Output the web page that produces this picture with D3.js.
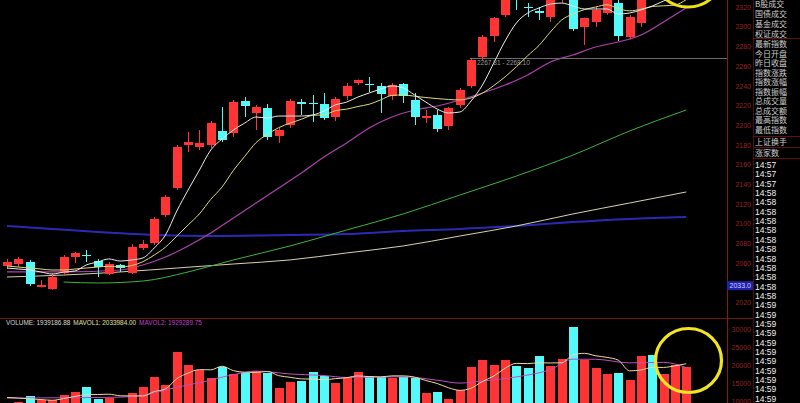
<!DOCTYPE html>
<html><head><meta charset="utf-8">
<script src="https://cdn.jsdelivr.net/npm/d3@7"></script>
<style>html,body{margin:0;padding:0;background:#000;overflow:hidden}</style>
</head><body><svg id="c" width="800" height="403"></svg>
<script>
// ---------- DATA ----------
const opens  = [2057.1,2059.1,2061.1,2035.7,2034.0,2049.9,2066.2,2068.5,2062.1,2048.9,
                2058.1,2049.9,2075.4,2080.4,2108.8,2136.2,2179.9,2177.9,2179.9,2194.1,
                2192.1,2224.6,2212.4,2217.5,2189.0,2200.2,2223.6,2222.8,2221.5,2208.3,
                2229.6,2242.8,2242.0,2239.8,2229.6,2241.8,2225.6,2207.3,2210.4,2199.2,
                2220.5,2239.8,2269.2,2290.6,2311.9,2342.0,2320.3,2315.9,2309.8,2330.0,
                2337.3,2299.7,2304.8,2313.9,2324.1,2289.5,2303.8,2345.0,2333.0,2340.0,2345.0];
const closes = [2061.1,2064.2,2038.8,2037.7,2045.9,2066.2,2070.3,2068.0,2056.0,2059.1,
                2055.0,2076.4,2079.4,2104.8,2127.1,2177.9,2182.9,2181.9,2202.2,2185.0,
                2223.6,2219.5,2218.5,2188.0,2195.1,2224.6,2221.5,2222.3,2207.3,2226.6,
                2239.8,2245.9,2241.5,2231.7,2240.8,2229.6,2208.3,2209.3,2196.1,2217.5,
                2235.7,2266.2,2289.5,2308.8,2330.2,2333.0,2319.8,2313.9,2332.2,2340.0,
                2297.7,2308.8,2317.0,2332.2,2290.6,2309.8,2335.2,2334.0,2343.0,2348.0,2352.0];
const highs  = [2064.2,2066.2,2063.2,2042.8,2049.9,2068.2,2071.3,2073.3,2064.2,2061.1,
                2059.1,2079.4,2083.5,2106.8,2129.1,2179.9,2193.1,2195.1,2204.3,2218.5,
                2225.6,2228.6,2220.5,2221.5,2197.2,2226.6,2226.6,2230.7,2232.7,2228.6,
                2242.8,2246.4,2248.9,2242.8,2242.8,2242.8,2232.7,2215.4,2215.4,2218.5,
                2237.8,2268.2,2291.6,2309.8,2333.0,2346.0,2324.1,2320.0,2336.0,2344.0,
                2342.0,2309.3,2320.0,2335.0,2330.0,2311.9,2338.0,2349.0,2346.0,2351.0,2355.0];
const lows   = [2054.0,2056.0,2036.7,2035.2,2033.0,2047.9,2060.1,2061.1,2045.9,2047.9,
                2051.0,2048.9,2073.3,2078.4,2106.8,2134.2,2172.8,2174.8,2176.9,2182.9,
                2188.0,2208.3,2195.1,2185.0,2181.9,2197.2,2210.4,2203.3,2205.3,2204.3,
                2225.6,2240.8,2233.7,2212.4,2225.6,2222.5,2200.2,2202.2,2193.1,2195.1,
                2217.5,2237.8,2266.2,2284.5,2309.8,2317.0,2309.8,2306.8,2304.8,2324.1,
                2295.6,2281.4,2299.7,2312.0,2285.5,2287.0,2299.7,2330.0,2330.0,2337.0,2341.0];
const volumes = [9300,9600,11400,10360,10360,11680,12510,13910,10560,10840,
                 9440,12230,13910,16700,14470,23690,20050,18660,16420,19500,
                 17540,17820,18380,17820,13630,15300,15590,18100,16980,15030,
                 16700,18100,16980,16700,16420,16700,16420,12230,12510,10560,
                 13070,19500,21450,20050,21450,19780,19220,22570,19780,21730,
                 30670,21450,19220,17540,17820,15860,22570,22850,17540,20050,19390];

// price moving averages
const ma5 = [2055.0,2054.0,2053.0,2051.0,2048.9,2050.9,2052.0,2058.1,2061.1,2064.2,
             2062.1,2063.2,2065.2,2075.3,2088.5,2112.9,2134.2,2154.5,2174.8,2186.0,
             2195.1,2202.2,2208.3,2207.3,2209.3,2209.3,2209.3,2210.4,2214.4,2220.5,
             2223.5,2228.6,2232.7,2236.7,2239.8,2237.8,2230.7,2223.5,2216.4,2212.4,
             2213.4,2224.6,2240.8,2263.1,2285.5,2303.8,2313.9,2319.0,2323.0,2324.0,
             2321.0,2318.0,2318.0,2318.0,2312.9,2313.9,2317.0,2321.0,2326.1,2331.2,2337.3];
const ma10 = [2057.1,2056.0,2055.0,2054.0,2053.0,2053.0,2054.0,2055.0,2056.0,2056.8,
              2056.1,2057.4,2061.4,2068.1,2076.2,2087.4,2098.7,2110.0,2124.7,2137.3,
              2154.1,2168.4,2182.3,2190.7,2197.5,2202.1,2206.0,2210.0,2210.5,2214.7,
              2216.3,2219.0,2221.3,2225.7,2230.2,2230.8,2229.4,2228.1,2227.0,2226.1,
              2225.7,2227.7,2232.5,2240.2,2249.1,2259.4,2270.6,2281.0,2294.6,2306.8,
              2313.0,2317.3,2320.0,2322.3,2318.4,2316.1,2317.7,2320.5,2321.2,2322.0,2327.5];
const ma20Idx = [0,5,10,12,14,16,18,20,22,24,26,28,30,32,34,36,38,40,42,44,46,48,50,52,54,56,58,60];
const ma20 = [2051.0,2051.0,2053.0,2058.1,2066.2,2077.4,2090.6,2105.8,2121.0,2136.2,2151.5,2167.7,2181.9,2197.2,
              2208.3,2215.4,2219.5,2225.6,2232.7,2240.8,2251.0,2264.2,2271.3,2279.4,2284.5,2291.6,2304.8,2319.0];
const ma60Idx = [5,8,12,16,20,25,30,35,40,45,50,55,60];
const ma60 = [2040.8,2039.8,2041.8,2051.0,2063.2,2077.4,2093.6,2109.9,2129.1,2148.4,2169.7,2194.1,2215.4];
const ma120Idx = [0,5,10,15,20,25,30,35,40,45,50,55,60];
const ma120 = [2045.9,2047.9,2051.0,2055.0,2059.1,2063.2,2070.3,2077.4,2087.5,2097.7,2109.9,2121.0,2132.2];
const ma250Idx = [0,4,8,13,18,25,30,35,40,45,50,55,60];
const ma250 = [2097.7,2094.6,2091.6,2088.5,2087.5,2088.5,2089.5,2092.6,2094.6,2097.7,2101.7,2104.8,2106.8];

// volume moving averages
const mavol1 = [11000,10800,10600,10400,10200,10680,11260,11760,11800,11900,
                11450,11400,11400,12620,13350,16200,17760,18710,18660,19660,
                18430,17990,17930,18210,17040,16590,16140,16090,15920,16200,
                16480,16980,16760,16700,16980,16980,16640,15690,14860,13680,
                12960,13570,15420,16930,19100,20450,20390,20610,20560,20620,
                22790,23240,22570,22120,21340,18380,18600,19330,19330,19770,20340];
const mavol2Idx = [0,5,10,12,15,17,20,22,25,28,30,35,38,40,42,45,48,50,52,55,58,60];
const mavol2 = [10800,10900,11070,11580,13830,15060,17320,18320,17510,17070,16540,16730,15780,14970,15560,16700,18740,21620,21590,20590,20730,19290];

const priceTicks = [2320,2300,2280,2260,2240,2220,2200,2180,2160,2140,2120,2100,2080,2060,2020];
const volTicks = [30000,25000,20000,15000,10000];
const lowMark = 2033.0;
const cursorRange = ["2267.81","2268.10"];
const cursorPrice = 2268.1;
const volTitle = [["VOLUME: 1939186.88","#d8d8d0"],["MAVOL1: 2033984.00","#e0e0a8"],["MAVOL2: 1929289.75","#c040c8"]];
const sideLabels = ["B股成交","国债成交","基金成交","权证成交","最新指数","今日开盘","昨日收盘","指数涨跌","指数涨幅","指数振幅","总成交量","总成交额","最高指数","最低指数","上证换手","涨家数"];
const timeLabels = ["14:57","14:57","14:57","14:58","14:58","14:58","14:58","14:58","14:58","14:58","14:58","14:58","14:58","14:58","14:58",
                    "14:59","14:59","14:59","14:59","14:59","14:59","14:59","14:59","14:59","14:59","14:59"];

// ---------- DRAW ----------
const svg = d3.select("#c");
svg.append("rect").attr("width",800).attr("height",403).attr("fill","#000");
const defs = svg.append("defs");
defs.append("clipPath").attr("id","cp").append("rect").attr("x",0).attr("y",0).attr("width",727).attr("height",317);
defs.append("clipPath").attr("id","cv").append("rect").attr("x",0).attr("y",319).attr("width",727).attr("height",84);

const x = d3.scaleLinear().domain([0,60]).range([7,686.2]);
const yP = d3.scaleLinear().domain([2020,2320]).range([302.5,7]);
const yV = d3.scaleLinear().domain([10000,30000]).range([401,329]);
const RED = "#ff3434", CYAN = "#54fafa";

const candles = opens.map((o,i)=>({i,o,c:closes[i],h:highs[i],l:lows[i],v:volumes[i]}));

// frame lines
const frame = svg.append("g");
frame.append("line").attr("x1",0).attr("x2",753).attr("y1",318.5).attr("y2",318.5).attr("stroke","#6a1414");
frame.append("line").attr("x1",727.5).attr("x2",727.5).attr("y1",0).attr("y2",403).attr("stroke","#8a1818");
frame.append("line").attr("x1",753.5).attr("x2",753.5).attr("y1",0).attr("y2",403).attr("stroke","#4a1010");
[38.5,136.5,147.5,158.5].forEach(yy=>frame.append("line").attr("x1",753).attr("x2",800).attr("y1",yy).attr("y2",yy).attr("stroke","#5a1212"));

// price pane
const gp = svg.append("g").attr("clip-path","url(#cp)");
const pl = (idx, vals) => d3.line().x((d,k)=>x(idx?idx[k]:k)).y(d=>yP(d)).curve(d3.curveMonotoneX)(vals);
gp.append("path").attr("d",pl(ma250Idx,ma250)).attr("fill","none").attr("stroke","#2a2ab4").attr("stroke-width",2);
gp.append("path").attr("d",pl(ma120Idx,ma120)).attr("fill","none").attr("stroke","#d8d2b0").attr("stroke-width",1);
gp.append("path").attr("d",pl(ma60Idx,ma60)).attr("fill","none").attr("stroke","#3cb43c").attr("stroke-width",1);
gp.append("path").attr("d",pl(ma20Idx,ma20)).attr("fill","none").attr("stroke","#b040b0").attr("stroke-width",1.2);

// cursor line
gp.append("line").attr("x1",470).attr("x2",727).attr("y1",Math.round(yP(cursorPrice))+0.5).attr("y2",Math.round(yP(cursorPrice))+0.5).attr("stroke","#6c6c6c");
svg.append("text").attr("x",477).attr("y",yP(cursorPrice)+7).attr("font-family","Liberation Sans").attr("font-size",6.5).attr("fill","#9a9a9a").text(cursorRange.join(" - "));

const cg = gp.selectAll("g.c").data(candles).join("g");
cg.append("line").attr("x1",d=>Math.round(x(d.i))+0.5).attr("x2",d=>Math.round(x(d.i))+0.5)
  .attr("y1",d=>yP(d.h)).attr("y2",d=>yP(d.l)).attr("stroke",d=>d.c>=d.o?RED:CYAN);
cg.append("rect").attr("x",d=>Math.round(x(d.i))-4).attr("width",9)
  .attr("y",d=>yP(Math.max(d.o,d.c))).attr("height",d=>Math.max(1.2,Math.abs(yP(d.o)-yP(d.c))))
  .attr("fill",d=>d.c>=d.o?RED:CYAN).attr("shape-rendering","crispEdges");

gp.append("path").attr("d",pl(null,ma10)).attr("fill","none").attr("stroke","#e0dc78").attr("stroke-width",1);
gp.append("path").attr("d",pl(null,ma5)).attr("fill","none").attr("stroke","#ececec").attr("stroke-width",1);

// volume pane
const gv = svg.append("g").attr("clip-path","url(#cv)");
gv.selectAll("rect").data(candles).join("rect")
  .attr("x",d=>Math.round(x(d.i))-4).attr("width",9)
  .attr("y",d=>yV(d.v)).attr("height",d=>yV(0)-yV(d.v))
  .attr("fill",d=>d.c>=d.o?RED:CYAN).attr("shape-rendering","crispEdges");
const vl = (idx, vals) => d3.line().x((d,k)=>x(idx?idx[k]:k)).y(d=>yV(d)).curve(d3.curveMonotoneX)(vals);
gv.append("path").attr("d",vl(mavol2Idx,mavol2)).attr("fill","none").attr("stroke","#c050c0").attr("stroke-width",1);
gv.append("path").attr("d",vl(null,mavol1)).attr("fill","none").attr("stroke","#ecdca0").attr("stroke-width",1);

const vt = svg.append("text").attr("x",6).attr("y",325).attr("font-family","Liberation Sans").attr("font-size",6.4);
volTitle.forEach(([t,c],k)=>vt.append("tspan").attr("fill",c).attr("dx",k?3:0).text(t));

// axes
const ax = svg.append("g").attr("transform","translate(752,0)")
  .call(d3.axisLeft(yP).tickValues(priceTicks).tickSize(0).tickPadding(1).tickFormat(d3.format("d")));
ax.select(".domain").remove();
ax.selectAll("text").attr("fill","#9a2020").attr("font-family","Liberation Sans").attr("font-size",7);
const av = svg.append("g").attr("transform","translate(752,0)")
  .call(d3.axisLeft(yV).tickValues(volTicks).tickSize(0).tickPadding(1).tickFormat(d3.format("d")));
av.select(".domain").remove();
av.selectAll("text").attr("fill","#9a2020").attr("font-family","Liberation Sans").attr("font-size",7);

// low marker box
const by = yP(lowMark) - 4;
svg.append("rect").attr("x",727).attr("y",by-4.5).attr("width",26).attr("height",9).attr("fill","#2020a8");
svg.append("text").attr("x",751).attr("y",by+2.5).attr("text-anchor","end").attr("font-family","Liberation Sans").attr("font-size",7).attr("fill","#d0d0ff").text(lowMark.toFixed(1));

// right side list
const side = svg.append("g").attr("font-family","Noto Sans CJK SC").attr("font-size",8).attr("fill","#cfcfcf");
side.selectAll("text").data(sideLabels).join("text").attr("x",755)
  .attr("y",(d,k)=> (k<4 ? 3.5+k*10 : k<14 ? 44+(k-4)*9.5 : (k===14?142:153)) + 3).text(d=>d);
const tl = svg.append("g").attr("font-family","Liberation Sans").attr("font-size",8.5).attr("fill","#f0f0f0");
tl.selectAll("text").data(timeLabels).join("text").attr("x",755).attr("y",(d,k)=>165+k*9.35+3).text(d=>d);

// highlight circles
svg.append("circle").attr("cx",688).attr("cy",-29).attr("r",36).attr("fill","none").attr("stroke","#ece21c").attr("stroke-width",3);
svg.append("ellipse").attr("cx",688.5).attr("cy",360.5).attr("rx",33).attr("ry",32).attr("fill","none").attr("stroke","#f0e424").attr("stroke-width",3.2);
</script></body></html>
